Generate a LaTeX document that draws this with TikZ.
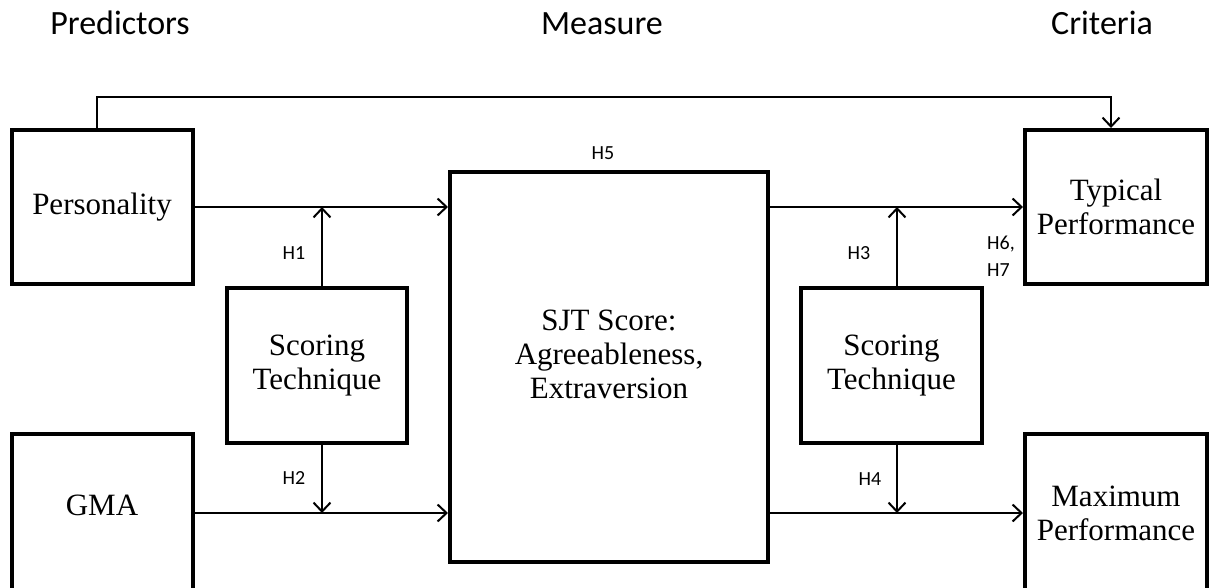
\documentclass[tikz,border=0pt]{standalone}
\usepackage{fontspec}
\setmainfont{Liberation Serif}
\newfontfamily\hfont{Carlito}
\usetikzlibrary{arrows.meta}
\begin{document}
\begin{tikzpicture}[x=1pt,y=-1pt,
  box/.style={draw, line width=4pt, inner sep=0pt, align=center, font=\fontsize{31}{34}\selectfont},
  boxtext/.style={inner sep=0pt, align=center, font=\fontsize{31}{34}\selectfont},
  conn/.style={line width=2pt, -{Straight Barb[length=9pt,width=17pt,line width=2pt]}},
  hdr/.style={font=\hfont\fontsize{34}{40}\selectfont, anchor=base, inner sep=0pt},
  hl/.style={font=\hfont\fontsize{20}{27}\selectfont, inner sep=0pt}]
\useasboundingbox (0,0) rectangle (1217,588);

% headers
\node[hdr] (hp) at (120,35) {Predictors};
\node[hdr] (hm) at (602,35) {Measure};
\node[hdr] (hc) at (1102,35) {Criteria};

% boxes
\node[box, minimum width=181pt, minimum height=154pt] (pers) at (102,207) {Personality};
\node[box, minimum width=181pt, minimum height=158pt] (gma) at (102,513) {};
\node[boxtext] (gmat) at (102,505) {GMA};
\node[box, minimum width=180pt, minimum height=155pt] (sc1) at (317,365.5) {Scoring\\Technique};
\node[box, minimum width=318pt, minimum height=390pt] (sjt) at (609,367) {};
\node[boxtext] (sjtt) at (609,354) {SJT Score:\\Agreeableness,\\Extraversion};
\node[box, minimum width=181pt, minimum height=155pt] (sc2) at (891.5,365.5) {Scoring\\Technique};
\node[box, minimum width=182pt, minimum height=154pt] (typ) at (1116,207) {Typical\\Performance};
\node[box, minimum width=182pt, minimum height=158pt] (maxp) at (1116,513) {Maximum\\Performance};

% connectors
\coordinate (top) at (0,97);
\draw[conn] ([xshift=-5pt]pers.north) -- ([xshift=-5pt]pers.north |- top) -| ([xshift=-5pt]typ.north);
\draw[conn] (pers.east) -- (pers.east -| sjt.west);
\draw[conn] (gma.east) -- (gma.east -| sjt.west);
\draw[conn] (sjt.east |- typ.west) -- (typ.west);
\draw[conn] (sjt.east |- maxp.west) -- (maxp.west);
\draw[conn] ([xshift=5pt]sc1.north) -- ([xshift=5pt]sc1.north |- pers.east);
\draw[conn] ([xshift=5pt]sc1.south) -- ([xshift=5pt]sc1.south |- gma.east);
\draw[conn] ([xshift=5.5pt]sc2.north) -- ([xshift=5.5pt]sc2.north |- typ.west);
\draw[conn] ([xshift=5.5pt]sc2.south) -- ([xshift=5.5pt]sc2.south |- maxp.west);

% hypothesis labels
\node[hl] (h1) at (294,253) {H1};
\node[hl] (h2) at (294,478) {H2};
\node[hl] (h3) at (859,253) {H3};
\node[hl] (h4) at (870,479) {H4};
\node[hl] (h5) at (603,153) {H5};
\node[hl, align=left, anchor=west] (h67) at (987,256.5) {H6,\\H7};
\end{tikzpicture}
\end{document}
